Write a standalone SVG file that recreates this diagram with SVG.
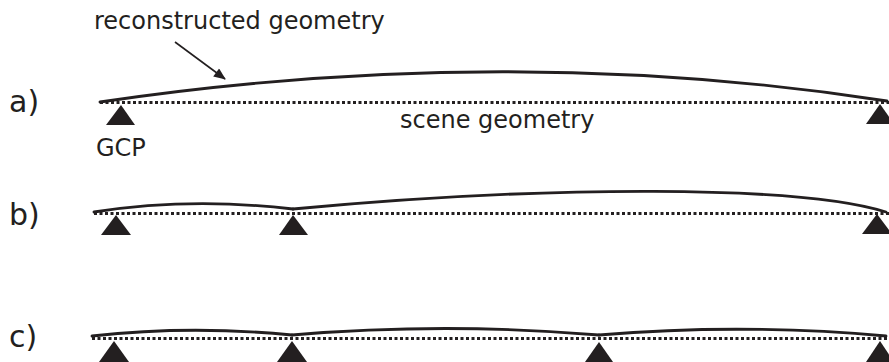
<svg xmlns="http://www.w3.org/2000/svg" width="889" height="362" viewBox="0 0 889 362">
<defs>
<style>
.lbl{font-family:"DejaVu Sans","Liberation Sans",sans-serif;fill:#231f20}
.row{font-size:30px}
.txt{font-size:24px}
.gcp{fill:#231f20}
.scene{fill:none;stroke:#231f20;stroke-width:3;stroke-dasharray:3 2.5}
.recon{fill:none;stroke:#231f20;stroke-width:2.8;stroke-linecap:round}
.arrow{fill:none;stroke:#231f20;stroke-width:1.6}
</style>
<marker id="ah2" viewBox="0 0 12 10" refX="11" refY="5" markerWidth="13" markerHeight="10" markerUnits="userSpaceOnUse" orient="auto">
<path d="M0,0 L12,5 L0,10 z" fill="#231f20"/>
</marker>
</defs>
<rect width="889" height="362" fill="#ffffff"/>

<g id="labels">
<text class="lbl txt" x="94" y="29">reconstructed geometry</text>
<text class="lbl row" x="9" y="112">a)</text>
<text class="lbl row" x="9" y="225">b)</text>
<text class="lbl row" x="9" y="347">c)</text>
<text class="lbl txt" x="400" y="128">scene geometry</text>
<text class="lbl txt" x="96" y="156">GCP</text>
</g>

<g id="connectors">
<line class="arrow" x1="175" y1="42" x2="225" y2="79" marker-end="url(#ah2)"/>
</g>

<g id="row-a">
<path class="scene" d="M100,102.5 H889"/>
<path class="recon" d="M100,102 Q505,42 887,101"/>
</g>
<g id="gcp-a1"><path class="gcp" d="M121,105 L106,125 L135,125 z"/></g>
<g id="gcp-a2"><path class="gcp" d="M880,104 L866,124 L894,124 z"/></g>

<g id="row-b">
<path class="scene" d="M94,213.5 H889"/>
<path class="recon" d="M94,212 Q190,197 293,209"/>
<path class="recon" d="M293,209 C550,185 800,185 886,212"/>
</g>
<g id="gcp-b1"><path class="gcp" d="M116,215 L101,235 L131,235 z"/></g>
<g id="gcp-b2"><path class="gcp" d="M293,215 L279,235 L308,235 z"/></g>
<g id="gcp-b3"><path class="gcp" d="M877,214 L862,234 L892,234 z"/></g>

<g id="row-c">
<path class="scene" d="M92,338.5 H889"/>
<path class="recon" d="M92,336 Q190,325 292,335"/>
<path class="recon" d="M292,335 Q445,322 599,335"/>
<path class="recon" d="M599,335 Q742,323 886,336"/>
</g>
<g id="gcp-c1"><path class="gcp" d="M114,341 L99,362 L129,362 z"/></g>
<g id="gcp-c2"><path class="gcp" d="M292,341 L277,362 L307,362 z"/></g>
<g id="gcp-c3"><path class="gcp" d="M599,342 L585,362 L613,362 z"/></g>
<g id="gcp-c4"><path class="gcp" d="M880,341 L866,362 L894,362 z"/></g>
</svg>
